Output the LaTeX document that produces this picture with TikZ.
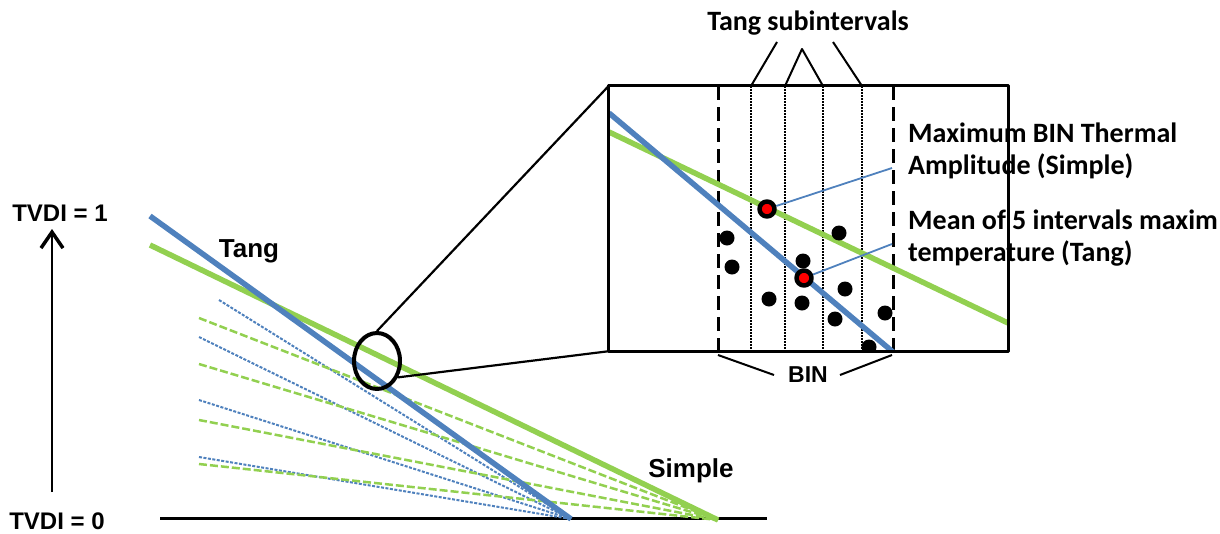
\documentclass[tikz,border=0pt]{standalone}
\usepackage{fontspec}
\setmainfont{Liberation Sans}
\newfontfamily\calibfont{Carlito}
\usetikzlibrary{arrows.meta,shapes.geometric}
\definecolor{tangblue}{RGB}{79,129,189}
\definecolor{simpgreen}{RGB}{146,208,80}

\begin{document}
\begin{tikzpicture}[x=1pt, y=-1pt, line join=round,
	tangline/.style={tangblue, line width=5.5pt},
	simpline/.style={simpgreen, line width=5.5pt},
	tangsub/.style={tangblue, line width=2pt, dash pattern=on 3pt off 1.5pt},
	simpsub/.style={simpgreen, line width=2.5pt, dash pattern=on 8pt off 3pt},
	peak/.style={circle, draw=black, line width=4.5pt, fill=red, inner sep=0pt, minimum size=15pt},
	pointer/.style={tangblue, line width=1.8pt},
	binline/.style={line width=3pt, dash pattern=on 14pt off 7pt},
	subline/.style={line width=1.5pt, dash pattern=on 1.5pt off 1.5pt},
	arial/.style={font=\fontsize{26}{30}\selectfont\bfseries, inner sep=0pt},
	calib/.style={font=\calibfont\fontsize{28}{32}\selectfont\bfseries, inner sep=0pt, align=left}]
	\useasboundingbox (0,0) rectangle (1220,533);
	
	% TVDI axis
	\node[arial, font=\fontsize{24}{28}\selectfont\bfseries] (tvdiTop) at (60,213) {TVDI = 1};
	\node[arial, font=\fontsize{24}{28}\selectfont\bfseries] (tvdiBot) at (57,521) {TVDI = 0};
	\coordinate (axisBot) at (52,492);
	\coordinate (axisTop) at (52,229);
	\draw[line width=2.5pt, -{Straight Barb[length=16pt, width=22pt, line width=3.5pt]}] (axisBot) -- (axisTop);
	\draw[line width=3pt] (160,518) -- (767,518);
	
	% subinterval lines
	\coordinate (tangEnd) at (571,519);
	\coordinate (simpEnd) at (718,520);
	\foreach \a/\b in {219/300, 199/337, 199/400, 199/457}
		\draw[tangsub] (\a,\b) -- (tangEnd);
	\foreach \b in {318, 364, 420, 464}
		\draw[simpsub] (199,\b) -- (simpEnd);
	\draw[simpline] (150,245) -- (simpEnd);
	\draw[tangline] (150,216) -- (tangEnd);
	\node[arial] (tang) at (249,251) {Tang};
	\node[arial] (simple) at (691,471) {Simple};
	
	% zoom
	\node[ellipse, draw, line width=4pt, minimum width=46pt, minimum height=56pt, inner sep=0pt] (lens) at (377,361) {};
	\node[inner sep=0pt, minimum width=399pt, minimum height=265pt] (zoombox) at (808.5,218.5) {};
	\draw[line width=2.2pt] (lens.north) -- (zoombox.north west);
	\draw[line width=2.2pt] (lens.-38) -- (zoombox.south west);
	
	\begin{scope}
		\clip (zoombox.north west) rectangle (zoombox.south east);
		\foreach \x [count=\i] in {751,785,823,862} {
			\coordinate (d\i) at (\x,86);
			\draw[subline] (d\i) -- (\x,351);
		}
		\foreach \x in {718,893}
			\draw[binline] (\x,86) -- (\x,351);
		\draw[simpline] (609,132) -- (1008,323);
		\draw[tangline] (609,113) -- (893,352);
		\foreach \p in {(727,238), (732,267), (769,299), (803,261), (802,303), (839,233), (845,289), (835,319), (885,313), (869,347)}
			\fill \p circle (7.5pt);
		\node[peak] (peakS) at (767,209) {};
		\node[peak] (peakT) at (804,278) {};
	\end{scope}
	\coordinate (ptrS) at (892,168);
	\coordinate (ptrT) at (892,244);
	\draw[pointer] (peakS) -- (ptrS);
	\draw[pointer] (peakT) -- (ptrT);
	\draw[line width=3pt] (zoombox.north west) rectangle (zoombox.south east);
	
	% labels of the zoom
	\node[calib, anchor=west] (simpText) at (908,151) {Maximum BIN Thermal\\Amplitude (Simple)};
	\node[calib, anchor=west] (tangText) at (908,238.5) {Mean of 5 intervals maxim\\temperature (Tang)};
	\node[calib] (subs) at (808,23) {Tang subintervals};
	\coordinate (s1) at (777,42);
	\coordinate (s2) at (802,49);
	\coordinate (s3) at (833,42);
	\draw[line width=2pt] (s1) -- (d1);
	\draw[line width=2pt] (d2) -- (s2) -- (d3);
	\draw[line width=2pt] (s3) -- (d4);
	\node[arial, font=\fontsize{23}{28}\selectfont\bfseries] (bin) at (808,375) {BIN};
	\coordinate (b1) at (718,355);
	\coordinate (b2) at (892,355);
	\draw[line width=2pt] (b1) -- ([xshift=-14pt]bin.west);
	\draw[line width=2pt] (b2) -- ([xshift=12pt]bin.east);
\end{tikzpicture}
\end{document}
